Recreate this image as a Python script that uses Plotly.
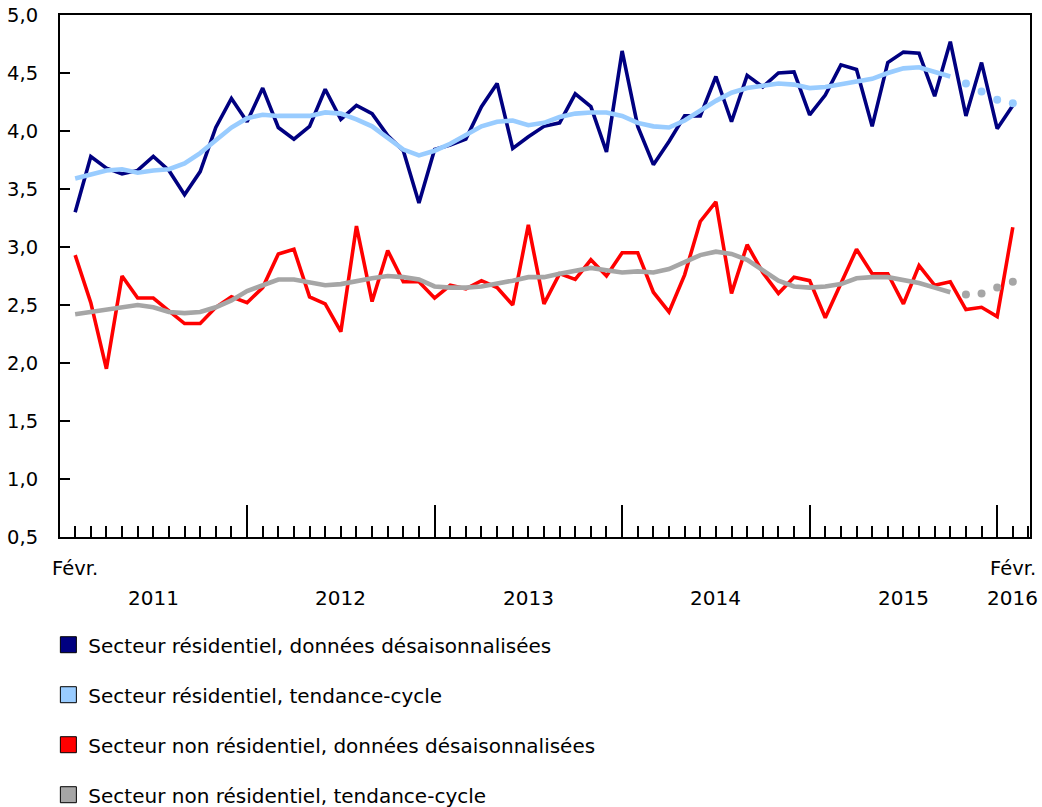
import plotly.graph_objects as go

# Months: Feb 2011 .. Feb 2016 (61 months)
start_year, start_month = 2011, 2
n_months = 61
month_idx = list(range(n_months))

res_sa = [3.30, 3.78, 3.68, 3.63, 3.66, 3.78, 3.66, 3.45, 3.65, 4.03,
          4.28, 4.08, 4.37, 4.03, 3.93, 4.04, 4.36, 4.10, 4.22, 4.15,
          3.96, 3.83, 3.38, 3.84, 3.88, 3.93, 4.21, 4.41, 3.85, 3.95,
          4.04, 4.07, 4.32, 4.21, 3.82, 4.69, 4.04, 3.71, 3.91, 4.13,
          4.13, 4.47, 4.08, 4.48, 4.38, 4.50, 4.51, 4.14, 4.31, 4.57,
          4.53, 4.04, 4.59, 4.68, 4.67, 4.30, 4.77, 4.13, 4.59, 4.02,
          4.22]
res_trend = [3.59, 3.63, 3.66, 3.67, 3.64, 3.66, 3.67, 3.72, 3.81, 3.92,
             4.03, 4.11, 4.14, 4.13, 4.13, 4.13, 4.16, 4.15, 4.10, 4.04,
             3.94, 3.84, 3.79, 3.83, 3.89, 3.97, 4.04, 4.08, 4.09, 4.05,
             4.07, 4.12, 4.15, 4.16, 4.16, 4.13, 4.07, 4.04, 4.03, 4.09,
             4.18, 4.26, 4.33, 4.37, 4.39, 4.41, 4.40, 4.37, 4.38, 4.40,
             4.42, 4.45, 4.50, 4.54, 4.55, 4.51, 4.47, 4.41, 4.34, 4.27,
             4.24]
nonres_sa = [2.93, 2.52, 1.95, 2.75, 2.56, 2.56, 2.45, 2.34, 2.34, 2.48,
             2.57, 2.52, 2.65, 2.94, 2.98, 2.57, 2.51, 2.27, 3.18, 2.53,
             2.97, 2.70, 2.70, 2.56, 2.67, 2.64, 2.71, 2.65, 2.50, 3.19,
             2.51, 2.77, 2.72, 2.89, 2.75, 2.95, 2.95, 2.61, 2.44, 2.76,
             3.22, 3.39, 2.60, 3.02, 2.78, 2.60, 2.74, 2.71, 2.39, 2.69,
             2.98, 2.77, 2.77, 2.51, 2.84, 2.67, 2.70, 2.46, 2.48, 2.40,
             3.17]
nonres_trend = [2.42, 2.44, 2.46, 2.49, 2.50, 2.48, 2.44, 2.43, 2.44, 2.48,
                2.54, 2.62, 2.67, 2.72, 2.72, 2.69, 2.67, 2.68, 2.71, 2.73,
                2.75, 2.74, 2.72, 2.66, 2.65, 2.65, 2.66, 2.68, 2.71, 2.74,
                2.74, 2.77, 2.79, 2.82, 2.80, 2.78, 2.79, 2.78, 2.81, 2.87,
                2.93, 2.96, 2.94, 2.89, 2.80, 2.71, 2.66, 2.65, 2.66, 2.68,
                2.73, 2.74, 2.74, 2.72, 2.69, 2.65, 2.61, 2.59, 2.60, 2.65,
                2.70]
# trend-cycle values after this index are shown as dots
last_solid = 56

series_names = [
    "Secteur résidentiel, données désaisonnalisées",
    "Secteur résidentiel, tendance-cycle",
    "Secteur non résidentiel, données désaisonnalisées",
    "Secteur non résidentiel, tendance-cycle",
]
colors = ["#000080", "#99ccff", "#ff0000", "#a6a6a6"]

year_labels = ["2011", "2012", "2013", "2014", "2015", "2016"]
month_label = "Févr."
y_ticks = [0.5, 1.0, 1.5, 2.0, 2.5, 3.0, 3.5, 4.0, 4.5, 5.0]

# January position (in month-index units) of each year
jan_idx = [i for i in month_idx if (start_month - 1 + i) % 12 == 0]

fig = go.Figure()
font = "DejaVu Sans, Verdana, sans-serif"
fs = 19.5

fig.add_trace(go.Scatter(x=month_idx, y=res_sa, mode="lines",
                         line=dict(color=colors[0], width=3.6), showlegend=False))
fig.add_trace(go.Scatter(x=month_idx[:last_solid + 1], y=res_trend[:last_solid + 1],
                         mode="lines", line=dict(color=colors[1], width=4.6),
                         showlegend=False))
fig.add_trace(go.Scatter(x=month_idx[last_solid + 1:], y=res_trend[last_solid + 1:],
                         mode="markers", marker=dict(color=colors[1], size=8),
                         showlegend=False))
fig.add_trace(go.Scatter(x=month_idx, y=nonres_sa, mode="lines",
                         line=dict(color=colors[2], width=3.6), showlegend=False))
fig.add_trace(go.Scatter(x=month_idx[:last_solid + 1], y=nonres_trend[:last_solid + 1],
                         mode="lines", line=dict(color=colors[3], width=4.6),
                         showlegend=False))
fig.add_trace(go.Scatter(x=month_idx[last_solid + 1:], y=nonres_trend[last_solid + 1:],
                         mode="markers", marker=dict(color=colors[3], size=8),
                         showlegend=False))

# Legend swatches
for k, (name, c) in enumerate(zip(series_names, colors)):
    fig.add_trace(go.Scatter(x=[None], y=[None], mode="markers", name=name,
                             legendgroup=f"g{k}",
                             marker=dict(symbol="square", size=19, color=c,
                                         line=dict(color="#000000", width=1))))

# X labels
annotations = []
for xi in (0, n_months - 1):
    annotations.append(dict(x=xi, y=-0.0594, xref="x", yref="paper", text=month_label,
                            showarrow=False, yanchor="middle", xanchor="center",
                            font=dict(size=fs, color="#000000", family=font)))
for yl in year_labels:
    jan_pos = 12 * (int(yl) - start_year) - (start_month - 1)
    if yl == year_labels[-1]:
        xc = n_months - 1
    else:
        xc = jan_pos + 6
    annotations.append(dict(x=xc, y=-0.117, xref="x", yref="paper", text=yl,
                            showarrow=False, yanchor="middle", xanchor="center",
                            font=dict(size=20, color="#000000", family=font)))

fig.update_layout(
    width=1042, height=807,
    margin=dict(l=60, r=12, t=15, b=270, autoexpand=False),
    plot_bgcolor="white", paper_bgcolor="white",
    separators=", ",
    font=dict(family=font, size=fs, color="#000000"),
    annotations=annotations,
    legend=dict(x=-0.012, y=-0.169, xanchor="left", yanchor="top",
                orientation="v", tracegroupgap=21,
                font=dict(size=20, family=font, color="#000000"),
                bgcolor="rgba(0,0,0,0)"),
    xaxis=dict(range=[-0.97, 61.1], showgrid=False, zeroline=False,
               automargin=False,
               showline=True, linecolor="#000000", linewidth=2, mirror=True,
               tickmode="array", tickvals=jan_idx, ticks="inside", ticklen=32,
               tickwidth=2, tickcolor="#000000", showticklabels=False,
               minor=dict(tickmode="linear", tick0=0, dtick=1, ticks="inside",
                          ticklen=11, tickwidth=2, tickcolor="#000000",
                          showgrid=False)),
    yaxis=dict(range=[0.5, 5.0], showgrid=False, zeroline=False,
               automargin=False,
               showline=True, linecolor="#000000", linewidth=2, mirror=True,
               tickmode="array", tickvals=y_ticks, tickformat=".1f",
               ticks="inside", ticklen=10, tickwidth=2, tickcolor="#000000",
               ticklabelstandoff=16,
               tickfont=dict(size=fs, family=font, color="#000000")),
)

fig.write_html("out.html",
               config={"displayModeBar": False},
               post_script="document.body.style.margin='0';"
                           "document.body.style.overflow='hidden';")
